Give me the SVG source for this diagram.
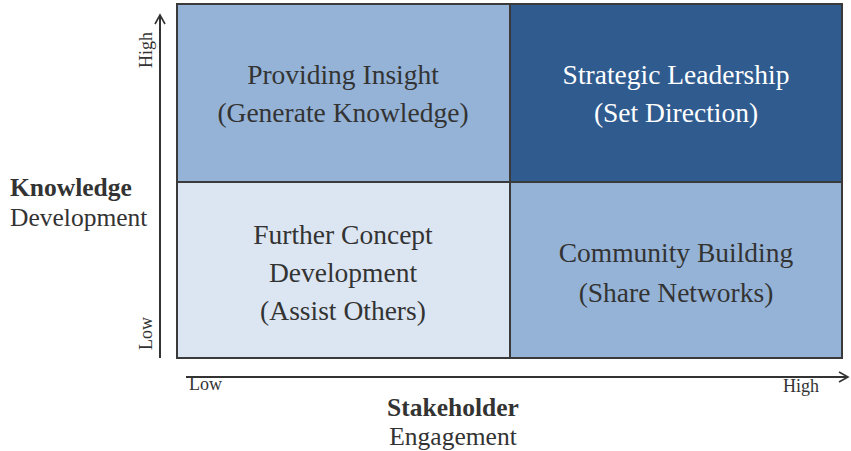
<svg xmlns="http://www.w3.org/2000/svg" width="851" height="451" viewBox="0 0 851 451">
<defs>
<marker id="arr" markerWidth="12" markerHeight="12" refX="10" refY="6" orient="auto" markerUnits="userSpaceOnUse">
<path d="M1,1 L10,6 L1,11" fill="none" stroke="#333" stroke-width="1.6"/>
</marker>
<style>
text{font-family:"Liberation Serif","Times New Roman",serif;fill:#333}
.q{font-size:27.5px;text-anchor:middle}
.lt{fill:#fff}
.ax{font-size:25.5px}
.tk{font-size:18px}
.cell{stroke:#3a3a3a;stroke-width:2}
</style>
</defs>
<rect width="851" height="451" fill="#fff"/>
<g id="connectors">
<line x1="160" y1="358" x2="160" y2="15" stroke="#333" stroke-width="2" marker-end="url(#arr)"/>
<line x1="186" y1="377" x2="848" y2="377" stroke="#333" stroke-width="2" marker-end="url(#arr)"/>
</g>
<g id="q-insight">
<rect class="cell" x="177" y="4" width="333" height="178" fill="#95b3d7"/>
<text class="q" x="343" y="84">Providing Insight</text>
<text class="q" x="343" y="122">(Generate Knowledge)</text>
</g>
<g id="q-leadership">
<rect class="cell" x="510" y="4" width="332" height="178" fill="#2f5b8f"/>
<text class="q lt" x="676" y="84">Strategic Leadership</text>
<text class="q lt" x="676" y="122">(Set Direction)</text>
</g>
<g id="q-concept">
<rect class="cell" x="177" y="182" width="333" height="176" fill="#dce6f2"/>
<text class="q" x="343" y="244">Further Concept</text>
<text class="q" x="343" y="282">Development</text>
<text class="q" x="343" y="320">(Assist Others)</text>
</g>
<g id="q-community">
<rect class="cell" x="510" y="182" width="332" height="176" fill="#95b3d7"/>
<text class="q" x="676" y="262">Community Building</text>
<text class="q" x="676" y="302">(Share Networks)</text>
</g>
<g id="y-axis-label">
<text class="ax" x="10" y="196" font-weight="bold">Knowledge</text>
<text class="ax" x="10" y="226">Development</text>
<text class="tk" transform="translate(152,68) rotate(-90)">High</text>
<text class="tk" transform="translate(152,350) rotate(-90)">Low</text>
</g>
<g id="x-axis-label">
<text class="tk" x="189" y="390">Low</text>
<text class="tk" x="783" y="392">High</text>
<text class="ax" x="453" y="416" font-weight="bold" text-anchor="middle">Stakeholder</text>
<text class="ax" x="453" y="445" text-anchor="middle">Engagement</text>
</g>
</svg>
